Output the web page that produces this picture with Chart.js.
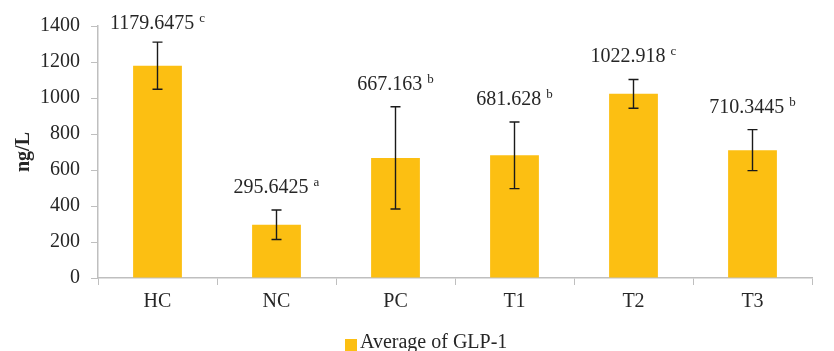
<!DOCTYPE html>
<html>
<head>
<meta charset="utf-8">
<script src="https://cdn.jsdelivr.net/npm/chart.js@4.4.1/dist/chart.umd.min.js"></script>
<style>
html,body{margin:0;padding:0;background:#fff;}
#wrap{width:834px;height:351px;position:relative;}
</style>
</head>
<body>
<div id="wrap"><canvas id="c" width="834" height="351"></canvas></div>
<script>
const categories = ["HC", "NC", "PC", "T1", "T2", "T3"];
const averages = [1179.6475, 295.6425, 667.163, 681.628, 1022.918, 710.3445];
const errors = [131, 82, 284, 185, 80, 114];
const valueLabels = ["1179.6475", "295.6425", "667.163", "681.628", "1022.918", "710.3445"];
const letters = ["c", "a", "b", "b", "c", "b"];
const yTicks = [0, 200, 400, 600, 800, 1000, 1200, 1400];
const seriesName = "Average of GLP-1";
const yTitle = "ng/L";

const FONT = "'Liberation Serif', 'Times New Roman', serif";
const BAR = "#FCBF12";
const AXIS = "#BFBFBF";
const TXT = "#262626";

const errorBarPlugin = {
  id: 'errorBars',
  afterDatasetsDraw(chart) {
    const ctx = chart.ctx;
    const meta = chart.getDatasetMeta(0);
    const y = chart.scales.y;
    ctx.save();
    meta.data.forEach((bar, i) => {
      const x = bar.x;
      const top = y.getPixelForValue(averages[i] + errors[i]);
      const bot = y.getPixelForValue(averages[i] - errors[i]);
      ctx.strokeStyle = "#1a1a1a";
      ctx.lineWidth = 1.4;
      ctx.beginPath();
      ctx.moveTo(x, top); ctx.lineTo(x, bot);
      ctx.moveTo(x - 5, top); ctx.lineTo(x + 5, top);
      ctx.moveTo(x - 5, bot); ctx.lineTo(x + 5, bot);
      ctx.stroke();
      // value label with superscript letter
      const mainFont = "20px " + FONT;
      const supFont = "13px " + FONT;
      ctx.font = mainFont;
      const w1 = ctx.measureText(valueLabels[i] + " ").width;
      ctx.font = supFont;
      const w2 = ctx.measureText(letters[i]).width;
      const total = w1 + w2;
      const baseY = Math.max(top - 17, chart.chartArea.top + 3);
      let sx = x - total / 2;
      ctx.fillStyle = TXT;
      ctx.textAlign = "left";
      ctx.textBaseline = "alphabetic";
      ctx.font = mainFont;
      ctx.fillText(valueLabels[i] + " ", sx, baseY);
      ctx.font = supFont;
      ctx.fillText(letters[i], sx + w1, baseY - 7);
    });
    // legend
    ctx.fillStyle = BAR;
    ctx.fillRect(345, 339, 12, 12);
    ctx.fillStyle = TXT;
    ctx.font = "20px " + FONT;
    ctx.textAlign = "left";
    ctx.textBaseline = "alphabetic";
    ctx.fillText(seriesName, 360, 348);
    ctx.restore();
  }
};

new Chart(document.getElementById('c'), {
  type: 'bar',
  data: {
    labels: categories,
    datasets: [{
      label: seriesName,
      data: averages,
      backgroundColor: BAR,
      borderWidth: 0,
      barPercentage: 0.41,
      categoryPercentage: 1.0
    }]
  },
  options: {
    responsive: false,
    animation: false,
    devicePixelRatio: 1,
    layout: { padding: { top: 26, right: 22, left: 0, bottom: 0 } },
    plugins: { legend: { display: false }, tooltip: { enabled: false } },
    scales: {
      x: {
        grid: { drawOnChartArea: false, drawTicks: true, tickLength: 7, color: AXIS, offset: true },
        border: { color: AXIS, width: 1.5 },
        ticks: { color: TXT, font: { family: FONT, size: 20 }, padding: 5, maxRotation: 0 },
        afterFit(scale) { scale.height = 73; }
      },
      y: {
        min: 0, max: 1400,
        afterBuildTicks(scale) { scale.ticks = yTicks.map(v => ({ value: v })); },
        grid: { drawOnChartArea: false, drawTicks: true, tickLength: 7, color: AXIS },
        border: { color: AXIS, width: 1.5 },
        ticks: { color: TXT, font: { family: FONT, size: 20 }, padding: 11, callback: (v) => String(v) },
        title: { display: true, text: yTitle, color: TXT, font: { family: FONT, size: 20, weight: 'bold' }, padding: { top: 12, bottom: 0 } },
        afterFit(scale) { scale.width = 98; }
      }
    }
  },
  plugins: [errorBarPlugin]
});
</script>
</body>
</html>
